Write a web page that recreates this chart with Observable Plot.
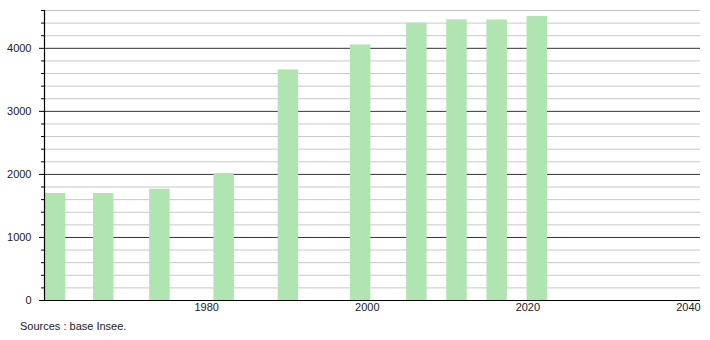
<!DOCTYPE html>
<html>
<head>
<meta charset="utf-8">
<script src="https://cdn.jsdelivr.net/npm/d3@7"></script>
<script src="https://cdn.jsdelivr.net/npm/@observablehq/plot@0.6"></script>
<style>
  html, body { margin: 0; padding: 0; background: #fff; }
  #wrap { position: relative; width: 710px; height: 340px; font-family: "Liberation Sans", Arial, sans-serif; }
  #caption { position: absolute; left: 20px; top: 320px; font-size: 11px; color: #222; }
</style>
</head>
<body>
<div id="wrap">
  <div id="chart"></div>
  <div id="caption">Sources : base Insee.</div>
</div>
<script>
const years = [1961, 1967, 1974, 1982, 1990, 1999, 2006, 2011, 2016, 2021];
const population = [1698, 1698, 1765, 2014, 3657, 4054, 4399, 4452, 4450, 4504];
const xTicks = [1980, 2000, 2020, 2040];
const yMajor = [0, 1000, 2000, 3000, 4000];
const yMinor = d3.range(200, 4601, 200).filter(v => v % 1000 !== 0);
const xDomain = [1959.8, 2041.5];
const yDomain = [0, 4600];

const data = years.map((year, i) => ({year, population: population[i]}));

const chart = Plot.plot({
  width: 710,
  height: 340,
  marginLeft: 44,
  marginRight: 10,
  marginTop: 10,
  marginBottom: 40,
  style: {fontFamily: "'Liberation Sans', Arial, sans-serif", fontSize: "11px", color: "#222", background: "#fff"},
  x: {domain: xDomain, label: null},
  y: {domain: yDomain, label: null},
  marks: [
    Plot.ruleY(yMinor, {stroke: "#c8c8c8", strokeWidth: 1}),
    Plot.ruleY(yMajor.filter(v => v > 0), {stroke: "#333", strokeWidth: 1}),
    Plot.rectY(data, {x1: d => d.year - 1.1, x2: d => d.year + 1.45, y: "population", fill: "#b0e4b0"}),
    Plot.ruleY([0], {stroke: "#000", strokeWidth: 1.2}),
    Plot.ruleX([xDomain[0]], {y1: yDomain[0], y2: yDomain[1], stroke: "#000", strokeWidth: 1.2}),
    Plot.axisY({ticks: yMinor, tickSize: 3, text: null, stroke: "#000", label: null}),
    Plot.axisY({ticks: yMajor, tickSize: 5, tickPadding: 8, tickFormat: d => String(d), stroke: "#000", fill: "#222", label: null}),
    Plot.axisX({ticks: xTicks, tickSize: 0, tickPadding: 3, tickFormat: d => String(d), fill: "#222", label: null})
  ]
});
document.getElementById("chart").appendChild(chart);
</script>
</body>
</html>
